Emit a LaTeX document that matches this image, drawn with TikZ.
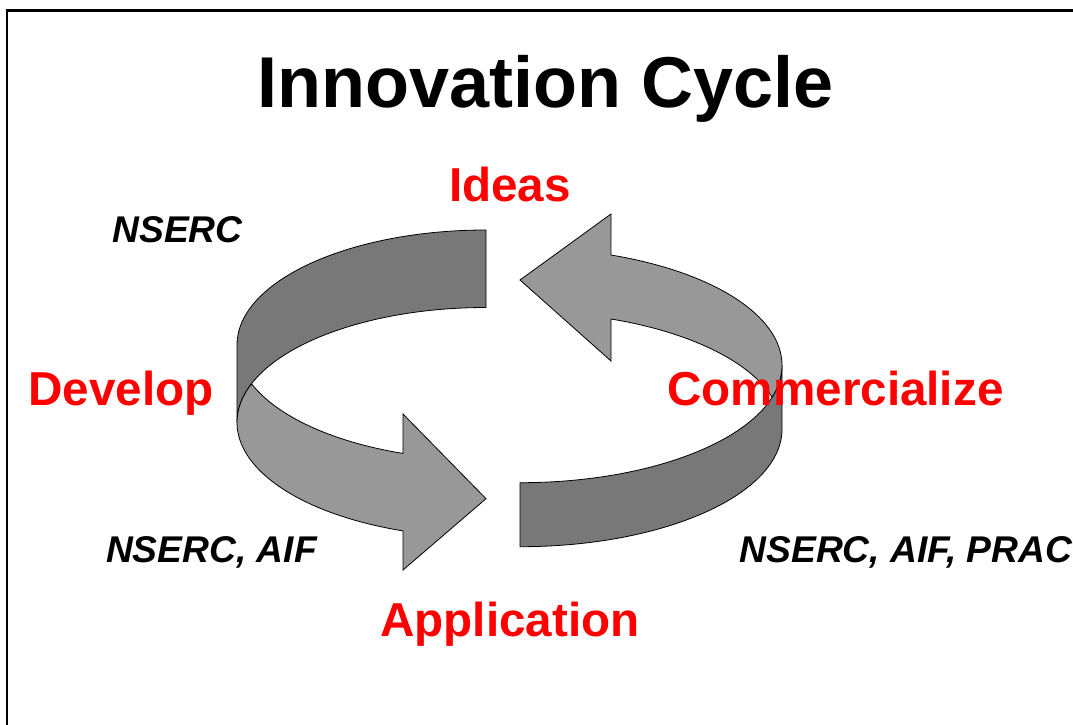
\documentclass[tikz,border=0pt]{standalone}
\usepackage{fontspec}
\setmainfont{Liberation Sans}
\definecolor{bandDark}{RGB}{120,120,120}
\definecolor{bandLight}{RGB}{152,152,152}
\definecolor{labelRed}{RGB}{255,0,0}
\tikzset{
  darkband/.style={fill=bandDark, draw=black, line width=0.6pt, line join=round},
  lightband/.style={fill=bandLight, draw=black, line width=0.6pt, line join=miter},
  titletext/.style={inner sep=0pt, anchor=base, font=\fontsize{54}{60}\selectfont\bfseries},
  stagetext/.style={inner sep=0pt, anchor=base, text=labelRed, font=\fontsize{35.7}{40}\selectfont\bfseries},
  fundtext/.style={inner sep=0pt, anchor=base, font=\fontsize{27.9}{32}\selectfont\bfseries\itshape},
  framepen/.style={draw=black, line width=1.9pt}
}
\begin{document}
\begin{tikzpicture}[x=0.75pt, y=-0.75pt]
\useasboundingbox (0,0) rectangle (1073,724);
\clip (0,0) rectangle (1073,724);
\fill[white] (0,0) rectangle (1073,724);
% frame (clipped on right and bottom)
\coordinate (frTR) at (1090,10.5);
\coordinate (frTL) at (7,10.5);
\coordinate (frBL) at (7,740);
\draw[framepen] (frTR) -- (frTL) -- (frBL);

% left arrow: dark back part
\path[darkband] (486,230) arc[start angle=270, end angle=180, x radius=249, y radius=115]
  -- (237,422.5) arc[start angle=180, end angle=270, x radius=249, y radius=115] -- cycle;
% left arrow: light front part with head
\path[lightband] (251.55,383.75) arc[start angle=160.31, end angle=109.47, x radius=249, y radius=115]
  -- (403,414) -- (486,498.7) -- (403,570) -- (403,530.9)
  arc[start angle=109.47, end angle=199.69, x radius=249, y radius=115] -- cycle;

% right arrow: dark front part
\path[darkband] (520,482.7) -- (520,546.7) arc[start angle=90, end angle=0, x radius=262, y radius=117.5]
  -- (782,365.2) arc[start angle=0, end angle=90, x radius=262, y radius=117.5] -- cycle;
% right arrow: light back part with head
\path[lightband] (782,365.2) arc[start angle=360, end angle=290.32, x radius=262, y radius=117.5]
  -- (611,214) -- (520,280) -- (611,361) -- (611,319.0)
  arc[start angle=290.32, end angle=344.2, x radius=262, y radius=117.5]
  arc[start angle=15.8, end angle=0, x radius=262, y radius=117.5] -- cycle;

% texts
\node[titletext] (title) at (545.5,108) {Innovation Cycle};
\node[stagetext] (ideas) at (510,201.7) {Ideas};
\node[stagetext] (develop) at (121,405) {Develop};
\node[stagetext] (commercialize) at (835.5,405) {Commercialize};
\node[stagetext] (application) at (510,636.7) {Application};
\node[fundtext] (fundA) at (177.5,242) {NSERC};
\node[fundtext] (fundB) at (211.5,562) {NSERC, AIF};
\node[fundtext] (fundC) at (906,562) {NSERC, AIF, PRAC};
\end{tikzpicture}
\end{document}
